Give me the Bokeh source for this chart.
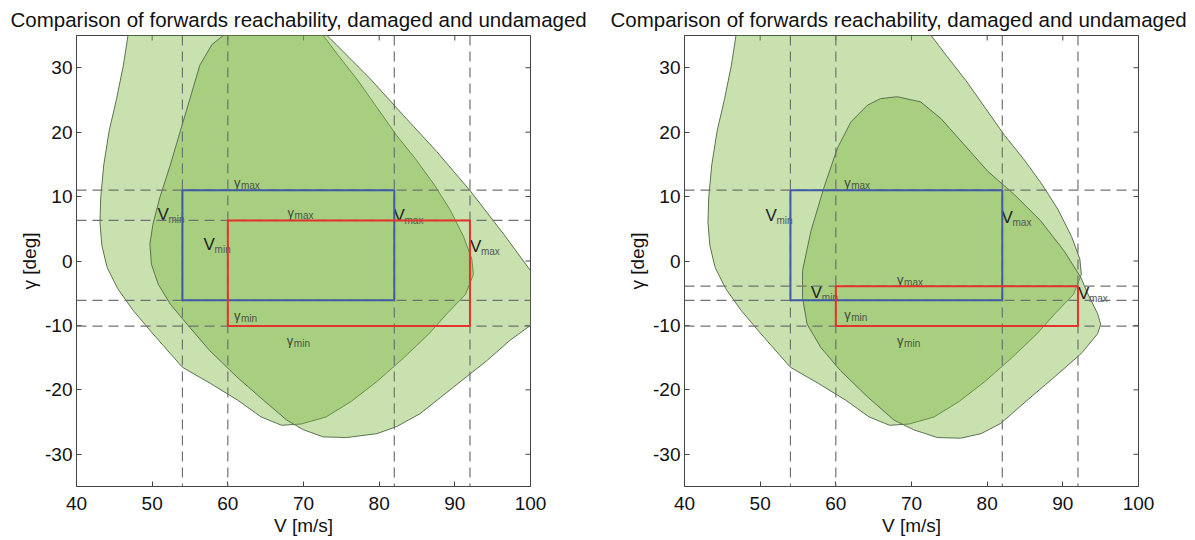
from bokeh.plotting import figure
from bokeh.models import ColumnDataSource, FixedTicker, Span, Range1d
from bokeh.layouts import row
from bokeh.embed import file_html
from bokeh.resources import INLINE

TITLE = "Comparison of forwards reachability, damaged and undamaged"
X_LABEL = "V [m/s]"
Y_LABEL = "γ [deg]"
x_ticks = [40, 50, 60, 70, 80, 90, 100]
y_ticks = [-30, -20, -10, 0, 10, 20, 30]
y_limits = [-35, 35]

# Undamaged forwards reachable set (same in both panels)
undamaged_V = [46.4, 46.8, 46.2, 45.3, 44.3, 43.6, 43.2, 43.1, 43.35, 44.05, 45.45, 47.5,
               50.1, 54.0, 57.7, 61.3, 64.4, 67.1, 69.7, 73.0, 76.3, 79.6, 83.0, 86.5,
               89.1, 91.4, 92.45, 92.25, 91.15, 89.35, 87.3, 84.9, 82.3, 79.6, 77.2, 74.6,
               72.6, 71.3]
undamaged_g = [37.0, 35.0, 30.4, 25.2, 20.1, 14.9, 9.8, 6.0, 2.4, -1.0, -4.3, -7.7,
               -11.3, -16.5, -19.0, -21.6, -24.2, -25.5, -25.3, -24.2, -21.8, -18.8, -15.3, -11.4,
               -8.0, -5.2, -2.1, 0.3, 3.8, 8.0, 11.8, 15.7, 19.5, 24.0, 28.0, 31.9,
               35.0, 37.0]

# Damaged set, left panel
damaged1_V = [60.3, 59.4, 57.9, 56.3, 55.0, 53.7, 52.4, 51.0, 50.1, 49.7, 49.9, 50.8,
              52.4, 54.6, 57.6, 61.2, 64.7, 67.8, 70.0, 72.6, 75.7, 79.7, 82.3, 85.4,
              89.8, 94.3, 97.3, 100.0, 103.0, 103.0, 100.0, 96.5, 92.1, 87.6, 83.2, 78.8,
              74.4, 73.1, 71.8]
damaged1_g = [37.0, 35.0, 33.6, 30.4, 25.2, 20.1, 14.9, 9.8, 5.7, 2.6, -0.5, -3.6,
              -6.7, -9.8, -13.9, -18.0, -21.6, -24.7, -26.2, -27.3, -27.4, -26.8, -25.7, -23.7,
              -19.6, -15.4, -12.3, -10.0, -7.0, -5.0, -1.5, 4.1, 10.8, 17.0, 22.6, 28.3,
              33.5, 35.0, 37.0]

# Damaged set, right panel
damaged2_V = [65.9, 68.1, 71.2, 73.9, 77.0, 80.1, 83.6, 87.1, 90.2, 92.4, 93.3, 94.6,
              95.0, 94.6, 92.4, 88.9, 85.3, 81.8, 79.2, 76.5, 73.4, 70.3, 67.7, 64.2,
              60.6, 58.0, 56.2, 55.6, 55.6, 56.7, 58.4, 60.2, 62.0, 64.2]
damaged2_g = [25.2, 25.5, 24.7, 22.1, 18.0, 13.9, 10.3, 6.2, 1.5, -2.6, -5.1, -8.2,
              -9.8, -11.3, -14.4, -18.0, -21.6, -25.2, -26.8, -27.5, -27.4, -26.2, -24.7, -21.1,
              -17.0, -13.4, -9.8, -5.7, -1.5, 4.6, 11.3, 17.5, 21.6, 24.2]

# Trim boxes
blue_V = [54.0, 82.0]
blue_g = [-6.1, 11.0]
red1_V = [60.0, 92.0]
red1_g = [-10.1, 6.3]
red2_V = [60.0, 92.0]
red2_g = [-10.1, -3.9]

# Box labels
label_main = ["γ", "γ", "V", "V", "V", "V", "γ", "γ"]
label_sub = ["max", "max", "min", "max", "min", "max", "min", "min"]
label1_V = [60.8, 67.9, 50.7, 81.9, 56.8, 92.0, 60.8, 67.8]
label1_g = [12.2, 7.5, 7.2, 7.0, 2.6, 2.3, -8.4, -12.3]
label2_V = [61.1, 68.1, 50.7, 81.9, 56.7, 92.0, 61.1, 68.1]
label2_g = [12.2, -2.8, 7.0, 6.7, -4.9, -5.1, -8.3, -12.3]

FONT = "Liberation Sans"
FILL = "#7cb83e"
EDGE = "#5b7350"
AXC = "#444444"
FRAME_W, FRAME_H = 454, 451


def make_panel(dam_V, dam_g, red_V, red_g, lab_V, lab_g, border_left, border_right, title_offset):
    p = figure(frame_width=FRAME_W, frame_height=FRAME_H,
               x_range=Range1d(x_ticks[0], x_ticks[-1]), y_range=Range1d(*y_limits),
               output_backend="svg", toolbar_location=None, title=TITLE,
               min_border_left=border_left, min_border_right=border_right,
               min_border_top=34, min_border_bottom=52)
    p.background_fill_color = "white"
    p.border_fill_color = "white"
    p.outline_line_color = AXC
    p.grid.visible = False

    p.title.text_font = FONT
    p.title.text_font_size = "20.5px"
    p.title.text_font_style = "normal"
    p.title.text_color = "#111111"
    p.title.align = "left"
    p.title.standoff = 10
    p.title.offset = title_offset

    for ax in (p.xaxis[0], p.yaxis[0]):
        ax.major_tick_in = 5
        ax.major_tick_out = 0
        ax.minor_tick_line_color = None
        ax.axis_line_color = AXC
        ax.major_tick_line_color = AXC
        ax.major_label_text_font = FONT
        ax.major_label_text_font_size = "19px"
        ax.major_label_text_color = "#111111"
        ax.axis_label_text_font = FONT
        ax.axis_label_text_font_size = "19px"
        ax.axis_label_text_font_style = "normal"
        ax.axis_label_text_color = "#111111"
    p.xaxis.ticker = FixedTicker(ticks=x_ticks)
    p.yaxis.ticker = FixedTicker(ticks=y_ticks)
    p.xaxis.major_label_overrides = {t: str(t) for t in x_ticks}
    p.yaxis.major_label_overrides = {t: str(t) for t in y_ticks}
    p.xaxis.axis_label = X_LABEL
    p.yaxis.axis_label = Y_LABEL
    p.xaxis.major_label_standoff = 10
    p.xaxis.axis_label_standoff = 2
    p.yaxis.major_label_standoff = 4
    p.yaxis.axis_label_standoff = 2

    # inward ticks on the top and right edges (MATLAB box style)
    tick_dy = 5 * (y_limits[1] - y_limits[0]) / FRAME_H
    tick_dx = 5 * (x_ticks[-1] - x_ticks[0]) / FRAME_W
    p.segment(x0=x_ticks, y0=[y_limits[1]] * len(x_ticks), x1=x_ticks,
              y1=[y_limits[1] - tick_dy] * len(x_ticks), line_color=AXC, line_width=1)
    p.segment(x0=[x_ticks[-1]] * len(y_ticks), y0=y_ticks,
              x1=[x_ticks[-1] - tick_dx] * len(y_ticks), y1=y_ticks,
              line_color=AXC, line_width=1)

    p.patch(undamaged_V, undamaged_g, fill_color=FILL, fill_alpha=0.42,
            line_color=EDGE, line_width=1)
    p.patch(dam_V, dam_g, fill_color=FILL, fill_alpha=0.42,
            line_color=EDGE, line_width=1)

    for v in sorted(set(blue_V + red_V)):
        p.add_layout(Span(location=v, dimension="height", line_color="#707070",
                          line_width=1.2, line_dash="10 6"))
    for g in sorted(set(blue_g + red_g)):
        p.add_layout(Span(location=g, dimension="width", line_color="#707070",
                          line_width=1.2, line_dash="10 6"))

    is_v = [m == "V" for m in label_main]

    def pick(flag):
        return dict(x=[x for x, k in zip(lab_V, is_v) if k == flag],
                    y=[y for y, k in zip(lab_g, is_v) if k == flag],
                    main=[m for m, k in zip(label_main, is_v) if k == flag],
                    sub=[s for s, k in zip(label_sub, is_v) if k == flag])

    v_src = ColumnDataSource(pick(True))
    g_src = ColumnDataSource(pick(False))
    p.text(x="x", y="y", text="main", source=v_src, text_font_size="17px",
           text_color="#222222", text_align="left", text_baseline="middle",
           text_font={"value": FONT})
    p.text(x="x", y="y", text="sub", source=v_src, text_font_size="10px",
           text_color="#555555", text_align="left", text_baseline="middle",
           x_offset=11, y_offset=5, text_font={"value": FONT})
    p.text(x="x", y="y", text="main", source=g_src, text_font_size="13px",
           text_color="#3a4535", text_align="left", text_baseline="middle",
           text_font={"value": FONT})
    p.text(x="x", y="y", text="sub", source=g_src, text_font_size="10px",
           text_color="#4a5545", text_align="left", text_baseline="middle",
           x_offset=7, y_offset=3, text_font={"value": FONT})

    p.quad(left=[blue_V[0]], right=[blue_V[1]], bottom=[blue_g[0]], top=[blue_g[1]],
           fill_alpha=0, line_color="#3f5ba6", line_width=2, level="overlay")
    p.quad(left=[red_V[0]], right=[red_V[1]], bottom=[red_g[0]], top=[red_g[1]],
           fill_alpha=0, line_color="#e5322b", line_width=2, level="overlay")
    return p


p1 = make_panel(damaged1_V, damaged1_g, red1_V, red1_g, label1_V, label1_g, 76, 67, -66)
p2 = make_panel(damaged2_V, damaged2_g, red2_V, red2_g, label2_V, label2_g, 87, 54, -74)
layout = row(p1, p2)
open("out.html", "w").write(file_html(layout, INLINE))
